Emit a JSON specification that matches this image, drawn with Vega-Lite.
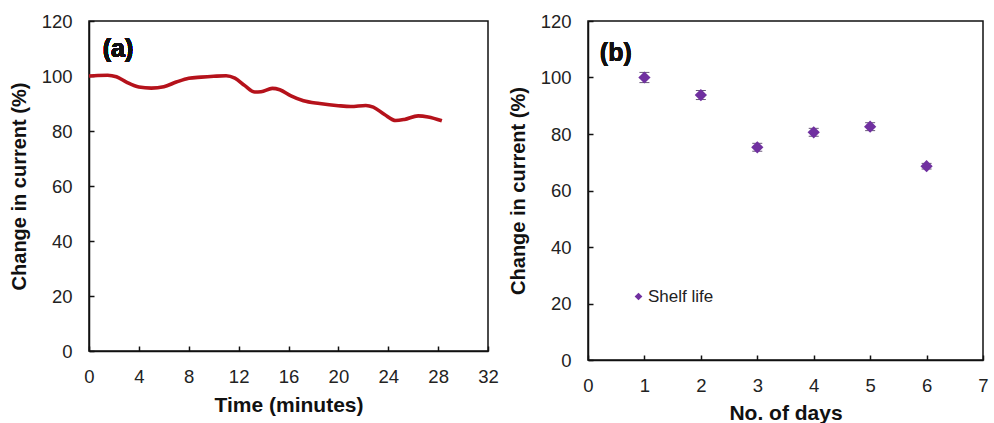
{
  "$schema": "https://vega.github.io/schema/vega-lite/v6.json",
  "padding": {"left": 8, "top": 11, "right": 5, "bottom": 0},
  "background": "white",
  "spacing": 7,
  "config": {
    "font": "Liberation Sans",
    "view": {"stroke": "#111", "strokeWidth": 1.5},
    "axis": {
      "grid": false,
      "domainColor": "#111",
      "domainWidth": 1.5,
      "tickColor": "#111",
      "tickWidth": 1.5,
      "tickSize": -5,
      "labelFont": "Liberation Sans",
      "labelFontSize": 18.5,
      "labelColor": "#222",
      "labelOverlap": false,
      "labelFlush": false,
      "titleFont": "Liberation Sans",
      "titleFontSize": 20,
      "titleFontWeight": "bold",
      "titleColor": "#111"
    }
  },
  "hconcat": [
    {
      "width": 399,
      "height": 330,
      "data": {"values": [
        {"t": 0, "v": 100.0}, {"t": 0.7, "v": 100.2}, {"t": 1.5, "v": 100.3}, {"t": 2.2, "v": 99.7},
        {"t": 3, "v": 97.8}, {"t": 4, "v": 96.0}, {"t": 5, "v": 95.6}, {"t": 6, "v": 96.1},
        {"t": 7, "v": 97.8}, {"t": 8, "v": 99.2}, {"t": 9, "v": 99.6}, {"t": 10, "v": 99.9},
        {"t": 11, "v": 100.1}, {"t": 11.7, "v": 99.2}, {"t": 12.5, "v": 96.5}, {"t": 13.3, "v": 94.2},
        {"t": 13.8, "v": 94.3}, {"t": 14.7, "v": 95.5}, {"t": 15.3, "v": 95.0}, {"t": 16.2, "v": 92.8},
        {"t": 17.2, "v": 91.0}, {"t": 18.5, "v": 90.0}, {"t": 20, "v": 89.2}, {"t": 21, "v": 88.9},
        {"t": 22.2, "v": 89.3}, {"t": 22.8, "v": 88.7}, {"t": 23.7, "v": 86.0}, {"t": 24.6, "v": 83.8},
        {"t": 25.3, "v": 84.2}, {"t": 26.4, "v": 85.5}, {"t": 27.2, "v": 85.1}, {"t": 28.3, "v": 83.7}
      ]},
      "layer": [
        {
          "mark": {"type": "line", "interpolate": "monotone", "color": "#B5121B", "strokeWidth": 3.6},
          "encoding": {
            "x": {"field": "t", "type": "quantitative", "title": "Time (minutes)",
              "scale": {"domain": [0, 32], "nice": false},
              "axis": {"values": [0,2,4,6,8,10,12,14,16,18,20,22,24,26,28,30,32],
                "labelExpr": "datum.value % 4 == 0 ? datum.label : ''", "labelPadding": 21, "titlePadding": 9, "titleFontSize": 21}},
            "y": {"field": "v", "type": "quantitative", "title": "Change in current (%)",
              "scale": {"domain": [0, 120], "nice": false},
              "axis": {"values": [0,10,20,30,40,50,60,70,80,90,100,110,120],
                "labelExpr": "datum.value % 20 == 0 ? datum.label : ''", "labelPadding": 22, "titlePadding": 12}}
          }
        },
        {
          "mark": {"type": "text", "text": "(a)", "font": "Liberation Sans", "fontSize": 25, "fontWeight": "bold", "align": "left", "baseline": "middle", "color": "#111", "strokeWidth": 0},
          "encoding": {"x": {"datum": 1.1}, "y": {"datum": 110}}
        }
      ]
    },
    {
      "width": 395,
      "height": 339,
      "data": {"values": [
        {"day": 1, "v": 100.0, "e": 1.8},
        {"day": 2, "v": 93.8, "e": 1.6},
        {"day": 3, "v": 75.3, "e": 1.4},
        {"day": 4, "v": 80.6, "e": 1.4},
        {"day": 5, "v": 82.6, "e": 1.4},
        {"day": 6, "v": 68.6, "e": 1.0}
      ]},
      "layer": [
        {
          "mark": {"type": "errorbar", "ticks": {"size": 10, "color": "#2a1240", "strokeWidth": 1.6}, "color": "#2a1240", "rule": {"strokeWidth": 1.6}},
          "encoding": {
            "x": {"field": "day", "type": "quantitative", "title": "No. of days",
              "scale": {"domain": [0, 7], "nice": false},
              "axis": {"values": [0,0.5,1,1.5,2,2.5,3,3.5,4,4.5,5,5.5,6,6.5,7],
                "labelExpr": "datum.value % 1 == 0 ? format(datum.value, 'd') : ''", "labelPadding": 21, "titlePadding": 8, "titleFontSize": 21}},
            "y": {"field": "v", "type": "quantitative", "title": "Change in current (%)",
              "scale": {"domain": [0, 120], "nice": false},
              "axis": {"values": [0,10,20,30,40,50,60,70,80,90,100,110,120],
                "labelExpr": "datum.value % 20 == 0 ? datum.label : ''", "labelPadding": 22, "titlePadding": 12}},
            "yError": {"field": "e"}
          }
        },
        {
          "mark": {"type": "point", "filled": true, "opacity": 1, "size": 150},
          "encoding": {
            "x": {"field": "day", "type": "quantitative"},
            "y": {"field": "v", "type": "quantitative"},
            "color": {"datum": "Shelf life", "scale": {"range": ["#7030A0"]},
              "legend": {"title": null, "orient": "none", "legendX": 541, "legendY": 267, "padding": 0,
                "labelFont": "Liberation Sans", "labelFontSize": 17, "labelColor": "#222", "symbolSize": 60, "labelOffset": 1}},
            "shape": {"datum": "Shelf life", "scale": {"range": ["diamond"]}}
          }
        },
        {
          "mark": {"type": "text", "text": "(b)", "font": "Liberation Sans", "fontSize": 25, "fontWeight": "bold", "align": "left", "baseline": "middle", "color": "#111", "strokeWidth": 0},
          "encoding": {"x": {"datum": 0.21}, "y": {"datum": 108.7}}
        }
      ]
    }
  ]
}
